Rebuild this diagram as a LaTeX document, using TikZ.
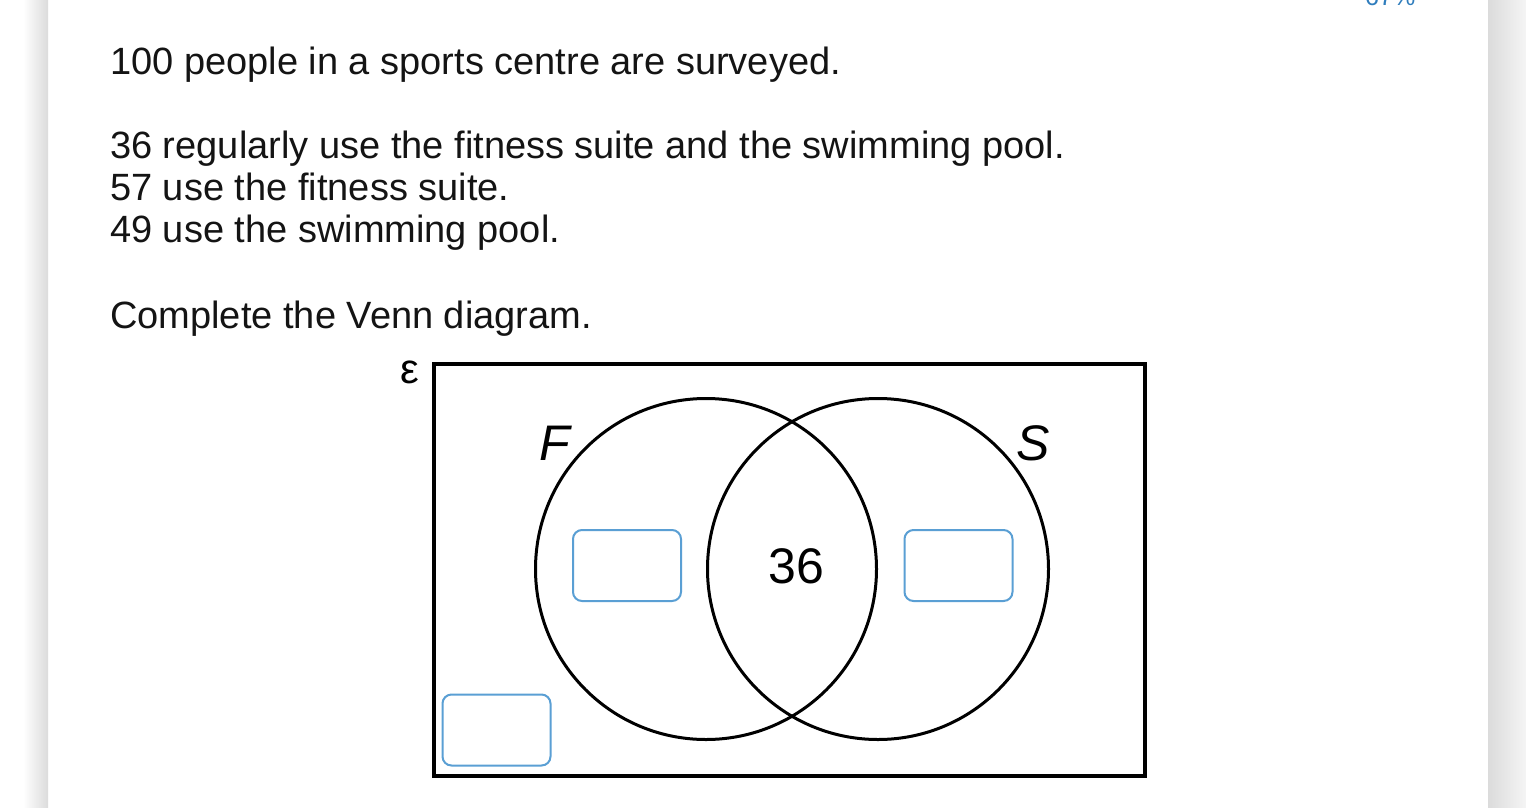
\documentclass[tikz,border=0pt]{standalone}
\usepackage{fontspec}
\setmainfont{Liberation Sans}
\usetikzlibrary{positioning}
\definecolor{boxblue}{HTML}{5A9FD4}
\definecolor{pctblue}{HTML}{2F7DBD}

\begin{document}
\begin{tikzpicture}[x=1pt, y=-1pt,
  every node/.style={inner sep=0pt},
  txt/.style={anchor=base west, font=\fontsize{38}{44}\selectfont, text=black!92},
  setlbl/.style={font=\fontsize{50}{60}\selectfont\itshape},
  ring/.style={draw, circle, line width=3pt, minimum size=341pt},
  ansbox/.style={draw=boxblue, line width=2pt, rounded corners=9pt,
                 minimum width=108pt, minimum height=71pt}]
% page and card shadow
\fill[white] (0,0) rectangle (1526,807);
\useasboundingbox (0,0) rectangle (1526,807);
\shade[left color=white, right color=black!14] (23,0) rectangle (48,807);
\shade[left color=black!14, right color=black!4] (1488,0) rectangle (1526,807);
\node[anchor=base west, font=\fontsize{25}{30}\selectfont, text=pctblue] (pct)
  at (1365,5) {67\%};

% question text
\node[txt] (intro) at (110,74) {100 people in a sports centre are surveyed.};
\node[txt] (both)  at (110,158) {36 regularly use the fitness suite and the swimming pool.};
\node[txt] (fit)   at (110,200) {57 use the fitness suite.};
\node[txt] (swim)  at (110,242) {49 use the swimming pool.};
\node[txt] (task)  at (110,328) {Complete the Venn diagram.};

% Venn diagram
\node[draw, line width=4pt, minimum width=711pt, minimum height=412pt]
  (univ) at (789.5,570) {};
\node[font=\fontsize{42}{50}\selectfont] (eps) at (410,372) {ε};
\node[ring] (F) at (706,569) {};
\node[ring] (S) at (878,569) {};
\node[setlbl] (lF) at (555,443) {F};
\node[setlbl] (lS) at (1033,443) {S};
\node[font=\fontsize{50}{60}\selectfont] (mid) at (796,566) {36};
\node[ansbox] (onlyF) at (627,565.5) {};
\node[ansbox] (onlyS) at (958.5,565.5) {};
\node[ansbox] (outside) at (496.5,730) {};
\end{tikzpicture}
\end{document}
